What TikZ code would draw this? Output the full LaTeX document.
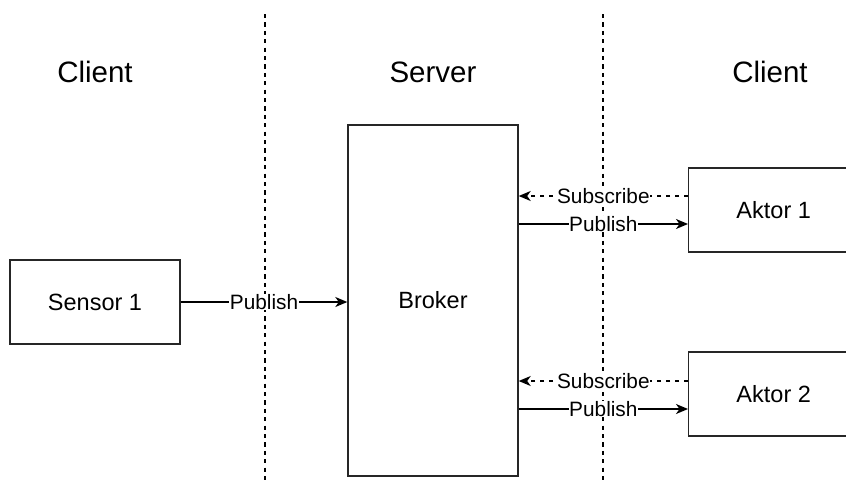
\documentclass[tikz,border=0pt]{standalone}
\usepackage{fontspec}
\setmainfont{Liberation Sans}
\usetikzlibrary{arrows.meta}

\tikzset{
  block/.style={draw=black!85, line width=1.4pt, fill=white, inner sep=0pt,
                font=\fontsize{23.5}{28}\selectfont},
  title/.style={font=\fontsize{29.5}{34}\selectfont, inner sep=0pt},
  divider/.style={line width=1.4pt, dash pattern=on 4.2pt off 4.2pt},
  flow/.style={line width=1.4pt, -{Stealth[length=12pt,width=10pt,inset=3.5pt]}},
  subflow/.style={flow, dash pattern=on 4.5pt off 4.5pt},
  lbl/.style={fill=white, inner sep=0.5pt, font=\fontsize{20.8}{24}\selectfont}
}

\begin{document}
\begin{tikzpicture}[x=1pt, y=-1pt]
  \clip (0,0) rectangle (846,488);
  \fill[white] (0,0) rectangle (846,488);

  % zone dividers
  \coordinate (d1t) at (265,14);
  \coordinate (d1b) at (265,484);
  \coordinate (d2t) at (603,14);
  \coordinate (d2b) at (603,484);
  \draw[divider] (d1t) -- (d1b);
  \draw[divider] (d2t) -- (d2b);

  % zone titles
  \node[title] (tl) at (95,72) {Client};
  \node[title] (tm) at (433,72) {Server};
  \node[title] (tr) at (770,72) {Client};

  % components
  \node[block, minimum width=170pt, minimum height=351pt] (broker) at (433,300.5) {Broker};
  \node[block, minimum width=170pt, minimum height=84pt] (sensor) at (95,302) {Sensor 1};
  \node[block, minimum width=170pt, minimum height=84pt, anchor=west] (aktor1) at (688,210) {Aktor 1};
  \node[block, minimum width=170pt, minimum height=84pt, anchor=west] (aktor2) at (688,394) {Aktor 2};

  % sensor publishes to the broker
  \draw[flow] (sensor.east |- 0,302) -- node[lbl] {Publish} (broker.west |- 0,302);

  % actor 1: subscribe and publish
  \draw[subflow] (aktor1.west |- 0,196) -- node[lbl] {Subscribe} (broker.east |- 0,196);
  \draw[flow] (broker.east |- 0,224) -- node[lbl] {Publish} (aktor1.west |- 0,224);

  % actor 2: subscribe and publish
  \draw[subflow] (aktor2.west |- 0,381) -- node[lbl] {Subscribe} (broker.east |- 0,381);
  \draw[flow] (broker.east |- 0,409) -- node[lbl] {Publish} (aktor2.west |- 0,409);
\end{tikzpicture}
\end{document}
